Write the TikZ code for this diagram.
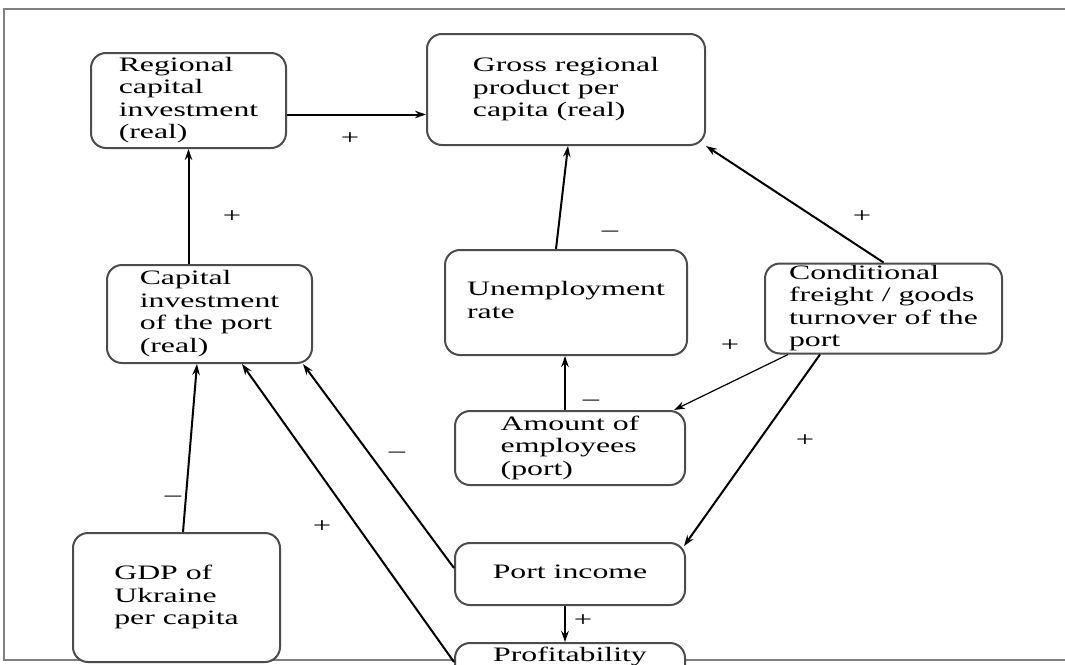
\documentclass[tikz,border=0pt]{standalone}
\usepackage{fontspec}
\setmainfont{Liberation Serif}
\usetikzlibrary{arrows.meta}
\newcommand{\wtext}[1]{\scalebox{1.55}[1]{\begin{tabular}{@{}l@{}}#1\end{tabular}}}

\begin{document}
\begin{tikzpicture}[x=1pt, y=-1pt, >={Stealth[length=11pt,width=7.5pt]},
    box/.style={draw=black!70, line width=2pt, rounded corners=15pt, fill=white, inner xsep=0pt, inner ysep=0pt, font=\fontsize{20.5}{22.5}\selectfont},
    sign/.style={inner sep=0pt, font=\fontsize{21}{22}\selectfont},
    conn/.style={line width=2pt}]
    \useasboundingbox (0,0) rectangle (1065,664);
    \clip (0,0) rectangle (1065,664);
    \fill[white] (0,0) rectangle (1065,664);
    \draw[gray, line width=2.5pt] (1065,9) -- (4,9) -- (4,660) -- (1065,660);

    \node[box, minimum width=195pt, minimum height=95pt] (reg) at (188.5,100.5) {\wtext{Regional\\capital\\investment\\(real)}};
    \node[box, minimum width=278pt, minimum height=111pt] (grp) at (566,89.5) {\wtext{Gross regional\\product per\\capita (real)}};
    \node[box, minimum width=205pt, minimum height=98pt] (cip) at (209.5,314) {\wtext{Capital\\investment\\of the port\\(real)}};
    \node[box, minimum width=242pt, minimum height=105pt] (unemp) at (566,302.5) {\wtext{Unemployment\\rate}};
    \node[box, minimum width=237pt, minimum height=83pt] (cond) at (883.5,308.5) {\wtext{Conditional\\freight / goods\\turnover of the\\port}};
    \node[box, minimum width=230pt, minimum height=74pt] (emp) at (570,448) {\wtext{Amount of\\employees\\(port)}};
    \node[box, minimum width=230pt, minimum height=62pt] (inc) at (570,574) {\wtext{Port income}};
    \node[box, minimum width=230pt, inner ysep=3pt, text depth=40pt, anchor=north] (prof) at (570,642) {\wtext{Profitability}};
    \node[box, minimum width=207pt, minimum height=129pt] (gdp) at (176.5,597.5) {\wtext{GDP of\\Ukraine\\per capita}};

    \draw[conn,->] ([yshift=-14pt]reg.east) -- ([yshift=-14pt]reg.east -| grp.west);
    \draw[conn,->] ([xshift=-21pt]cip.north) -- ([xshift=-21pt]cip.north |- reg.south);
    \draw[conn,->] ([xshift=-10pt]unemp.north) -- ([xshift=2pt]grp.south);
    \draw[conn,->] (cond.north) -- (grp.south east);
    \draw[conn,->] ([xshift=-5pt]emp.north) -- ([xshift=-1pt]unemp.south);
    \draw[line width=1.2pt,->] ([xshift=-95.5pt]cond.south) -- ([xshift=-12pt]emp.north east);
    \draw[conn,->] ([xshift=-63.5pt]cond.south) -- ([xshift=-2pt,yshift=-4pt]inc.north east);
    \draw[conn,->] ([xshift=-5pt]inc.south) -- ([xshift=-5pt]prof.north);
    \draw[conn,->] ([xshift=6.5pt]gdp.north) -- ([xshift=-12.5pt]cip.south);
    \draw[conn,->] ([yshift=6pt]inc.west) -- ([xshift=-10pt]cip.south east);
    \draw[conn,->] ([yshift=-20pt]prof.north west) -- ([xshift=32.5pt]cip.south);

    \node[sign] (s1) at (350,140) {\wtext{+}};
    \node[sign] (s2) at (232,218) {\wtext{+}};
    \node[sign] (s3) at (610,232) {\wtext{–}};
    \node[sign] (s4) at (862,218) {\wtext{+}};
    \node[sign] (s5) at (591,401) {\wtext{–}};
    \node[sign] (s6) at (730,347) {\wtext{+}};
    \node[sign] (s7) at (805,442) {\wtext{+}};
    \node[sign] (s8) at (583,622) {\wtext{+}};
    \node[sign] (s9) at (173,497) {\wtext{–}};
    \node[sign] (s10) at (397,453) {\wtext{–}};
    \node[sign] (s11) at (322,528) {\wtext{+}};
\end{tikzpicture}
\end{document}
